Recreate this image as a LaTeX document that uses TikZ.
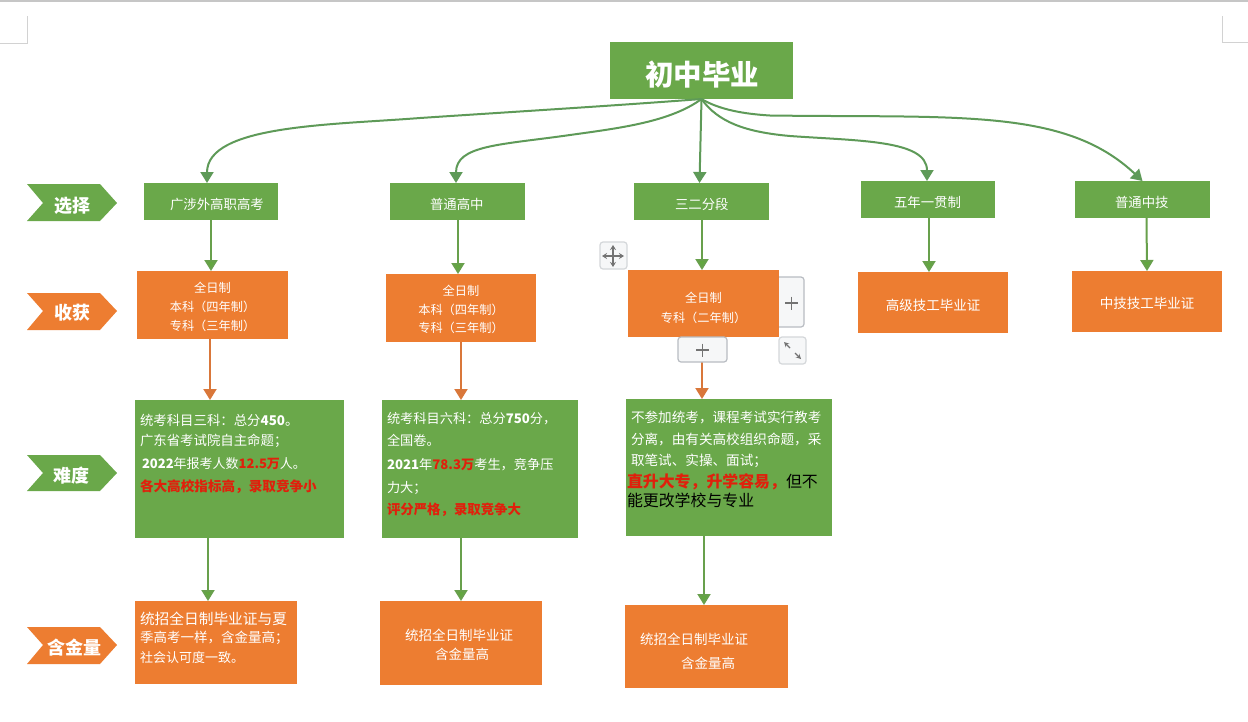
\documentclass[tikz,border=0pt]{standalone}
\usepackage{fontspec}
\setmainfont{Noto Sans CJK SC}
\usetikzlibrary{arrows.meta}
\definecolor{gboxc}{HTML}{6AA84A}
\definecolor{oboxc}{HTML}{ED7D31}
\definecolor{garrow}{HTML}{5E9A58}
\definecolor{harrow}{HTML}{62A83F}
\definecolor{oarrow}{HTML}{D9773A}
\definecolor{redt}{HTML}{E0200C}
\definecolor{uig}{HTML}{B8BCC2}
\definecolor{uif}{HTML}{F6F7F8}
\newcommand{\fs}[1]{\fontsize{#1}{#1}\selectfont}
\newcommand{\red}[1]{\textcolor{redt}{\bfseries #1}}
% name x1 y1 x2 y2 style dx dy text
\newcommand{\bx}[9]{%
  \pgfmathsetlengthmacro{\bw}{(#4-#2)*1pt}%
  \pgfmathsetlengthmacro{\bh}{(#5-#3)*1pt}%
  \pgfmathsetlengthmacro{\tw}{\bw-#7*1pt}%
  \node[#6,minimum width=\bw,minimum height=\bh] (#1) at ({(#2+#4)/2},{(#3+#5)/2})
    {\hspace*{#7pt}\parbox[t][\bh][t]{\tw}{\vspace*{#8pt}#9}};}
\tikzset{
  gbox/.style={fill=gboxc,text=white,inner sep=0pt,outer sep=0pt},
  obox/.style={fill=oboxc,text=white,inner sep=0pt,outer sep=0pt},
  mainarrow/.style={draw=garrow,line width=2pt,-{Triangle[length=11pt,width=13pt,fill=garrow]}},
  grarrow/.style={draw=harrow!80!gray,line width=2pt,-{Triangle[length=11pt,width=13pt,fill=harrow]}},
  orarrow/.style={draw=oarrow,line width=2pt,-{Triangle[length=11pt,width=13pt,fill=oarrow]}},
  chevlabel/.style={text=white,font=\fs{18}\bfseries,inner sep=0pt},
  uibtn/.style={draw=uig,line width=1.2pt,fill=uif,rounded corners=3pt},
  uiline/.style={draw=gray!90!black,line width=1.2pt},
  guide/.style={draw=gray!35,line width=1pt}
}
\begin{document}
\begin{tikzpicture}[x=1pt,y=-1pt]
\useasboundingbox[fill=white] (0,0) rectangle (1248,721);
% window chrome
\fill[gray!45] (0,0) rectangle (1248,2);
\draw[guide] (0,43) -- (27,43) -- (27,16);
\draw[guide] (1222,16) -- (1222,42) -- (1248,42);

% editor widgets
\draw[uibtn] (770,277) rectangle (804,327);
\draw[uiline] (785,303) -- (798,303) (791.5,296.5) -- (791.5,309.5);
\draw[uibtn,draw=uig!60] (779,337) rectangle (806,364);
\draw[uiline,-{Stealth[length=5pt,width=5pt]}] (790,348) -- (784,342);
\draw[uiline,-{Stealth[length=5pt,width=5pt]}] (795,353) -- (801,359);
\draw[uibtn,draw=uig!60] (600,242) rectangle (627,269);
\draw[uiline,{Stealth[length=5pt,width=6pt]}-{Stealth[length=5pt,width=6pt]}] (602,256) -- (624,256);
\draw[uiline,{Stealth[length=5pt,width=6pt]}-{Stealth[length=5pt,width=6pt]}] (613,245) -- (613,267);

% title
\bx{top}{610}{42}{793}{99}{gbox}{35}{19}{\fs{28.5}\bfseries 初中毕业}

% choices
\bx{a1}{144}{183}{278}{220}{gbox}{26}{15.5}{\fs{13.4}广涉外高职高考}
\bx{b1}{390}{183}{525}{220}{gbox}{40}{15.5}{\fs{13.4}普通高中}
\bx{c1}{634}{183}{769}{220}{gbox}{41}{15.5}{\fs{13.4}三二分段}
\bx{d1}{861}{181}{995}{218}{gbox}{33}{15}{\fs{13.4}五年一贯制}
\bx{e1}{1075}{181}{1210}{218}{gbox}{40}{15}{\fs{13.4}普通中技}

% gains
\bx{a2}{137}{271}{288}{339}{obox}{0}{11}{\centering\fontsize{12.2}{19}\selectfont 全日制\\本科（四年制）\\专科（三年制）\par}
\bx{b2}{386}{274}{536}{342}{obox}{0}{11}{\centering\fontsize{12.2}{18.7}\selectfont 全日制\\本科（四年制）\\专科（三年制）\par}
\bx{c2}{628}{270}{779}{337}{obox}{0}{22}{\centering\fontsize{12.2}{20}\selectfont 全日制\\专科（二年制）\par}
\bx{d2}{858}{272}{1008}{333}{obox}{0}{27}{\centering\fs{13.5}高级技工毕业证\par}
\bx{e2}{1072}{271}{1222}{332}{obox}{0}{26}{\centering\fs{13.5}中技技工毕业证\par}

% difficulty
\bx{a3}{135}{400}{344}{538}{gbox}{5}{14}{\fontsize{13.4}{20}\selectfont\raggedright
统考科目三科：总分\textbf{450}。\\
广东省考试院自主命题；\\[3pt]
\hspace*{2pt}\fontsize{13}{20}\selectfont\textbf{2022}年报考人数\red{12.5万}人。\\[3pt]
\fontsize{13.6}{20}\selectfont\red{各大高校指标高，录取竞争小}\par}
\bx{b3}{382}{400}{578}{538}{gbox}{5}{12}{\fontsize{13.2}{22}\selectfont\raggedright
统考科目六科：总分\textbf{750}分，\\
全国卷。\\[2pt]
\textbf{2021}年\red{78.3万}考生，竞争压\\[1pt]
力大；\\
\fontsize{13.4}{22}\selectfont\red{评分严格，录取竞争大}\par}
\bx{c3}{626}{399}{832}{536}{gbox}{5}{12}{\fontsize{13.6}{21}\selectfont\raggedright
不参加统考，课程考试实行教考\\[1pt]
分离，由有关高校组织命题，采\\
取笔试、实操、面试；\\[1pt]
\hspace*{-4pt}\fontsize{15.9}{21}\selectfont\red{直升大专，升学容易，}\textcolor{black}{但不}\\[-2pt]
\hspace*{-4pt}\fontsize{15.9}{21}\selectfont\textcolor{black}{能更改学校与专业}\par}

% value
\bx{a4}{135}{601}{297}{684}{obox}{5}{11}{\fontsize{14.7}{19.5}\selectfont\raggedright
统招全日制毕业证与夏\\[-1.5pt]
\fontsize{13.5}{19.5}\selectfont 季高考一样，含金量高；\\
\fontsize{13}{19.5}\selectfont 社会认可度一致。\par}
\bx{b4}{380}{601}{542}{685}{obox}{25}{28}{\fontsize{13.5}{19.5}\selectfont\raggedright
统招全日制毕业证\\
\hspace*{30pt}含金量高\par}
\bx{c4}{625}{605}{788}{688}{obox}{15}{28}{\fontsize{13.5}{24}\selectfont\raggedright
统招全日制毕业证\\
\hspace*{41pt}含金量高\par}

% row labels
\fill[gboxc] (27,184) -- (100,184) -- (117,203) -- (100,221) -- (27,221) -- (43,203) -- cycle;
\node[chevlabel] (l1) at (72,206) {选择};
\fill[oboxc] (27,293) -- (100,293) -- (117,311) -- (100,330) -- (27,330) -- (43,311) -- cycle;
\node[chevlabel] (l2) at (72,313) {收获};
\fill[gboxc] (27,455) -- (100,455) -- (117,473) -- (100,491) -- (27,491) -- (43,473) -- cycle;
\node[chevlabel] (l3) at (71,476) {难度};
\fill[oboxc] (27,627) -- (100,627) -- (117,645) -- (100,664) -- (27,664) -- (43,645) -- cycle;
\node[chevlabel] (l4) at (74,648) {含金量};

% connectors from the title
\draw[mainarrow] (top.south) .. controls (610,106) and (510,112) .. (420,118)
  .. controls (330,125) and (207,125) .. ([xshift=-4pt]a1.north);
\draw[mainarrow] (top.south) .. controls (670,122) and (620,128) .. (570,135)
  .. controls (500,145) and (456,145) .. ([xshift=-1.5pt]b1.north);
\draw[mainarrow] (top.south) -- ([xshift=-2pt]c1.north);
\draw[mainarrow] (top.south) .. controls (718,122) and (745,132) .. (790,136)
  .. controls (860,141) and (927,140) .. ([xshift=-1pt]d1.north);
\draw[mainarrow] (top.south) .. controls (720,110) and (745,114) .. (770,115.5)
  .. controls (960,118) and (1065,108) .. (e1.north);

% vertical connectors
\draw[grarrow] (a1.south) -- (a2.north -| a1.south);
\draw[grarrow] ([xshift=0.5pt]b1.south) -- ([xshift=-3pt]b2.north);
\draw[grarrow] ([xshift=0.5pt]c1.south) -- ([xshift=-1.5pt]c2.north);
\draw[grarrow] ([xshift=1pt]d1.south) -- ([xshift=-4pt]d2.north);
\draw[grarrow] ([xshift=4pt]e1.south) -- (e2.north);

\draw[orarrow] ([xshift=-2.5pt]a2.south) -- ([xshift=-29.5pt]a3.north);
\draw[orarrow] (b2.south) -- (b3.north -| b2.south);
\draw[orarrow] ([xshift=-1.5pt]c2.south) -- ([xshift=-27pt]c3.north);

% the button that sits over the start of the orange connector
\draw[uibtn] (678,337) rectangle (727,362);
\draw[uiline] (696,350) -- (709,350) (702.5,343.5) -- (702.5,356.5);

\draw[grarrow] ([xshift=-31.5pt]a3.south) -- ([xshift=-8pt]a4.north);
\draw[grarrow] ([xshift=-19pt]b3.south) -- (b4.north);
\draw[grarrow] ([xshift=-25pt]c3.south) -- ([xshift=-2.5pt]c4.north);
\end{tikzpicture}
\end{document}
